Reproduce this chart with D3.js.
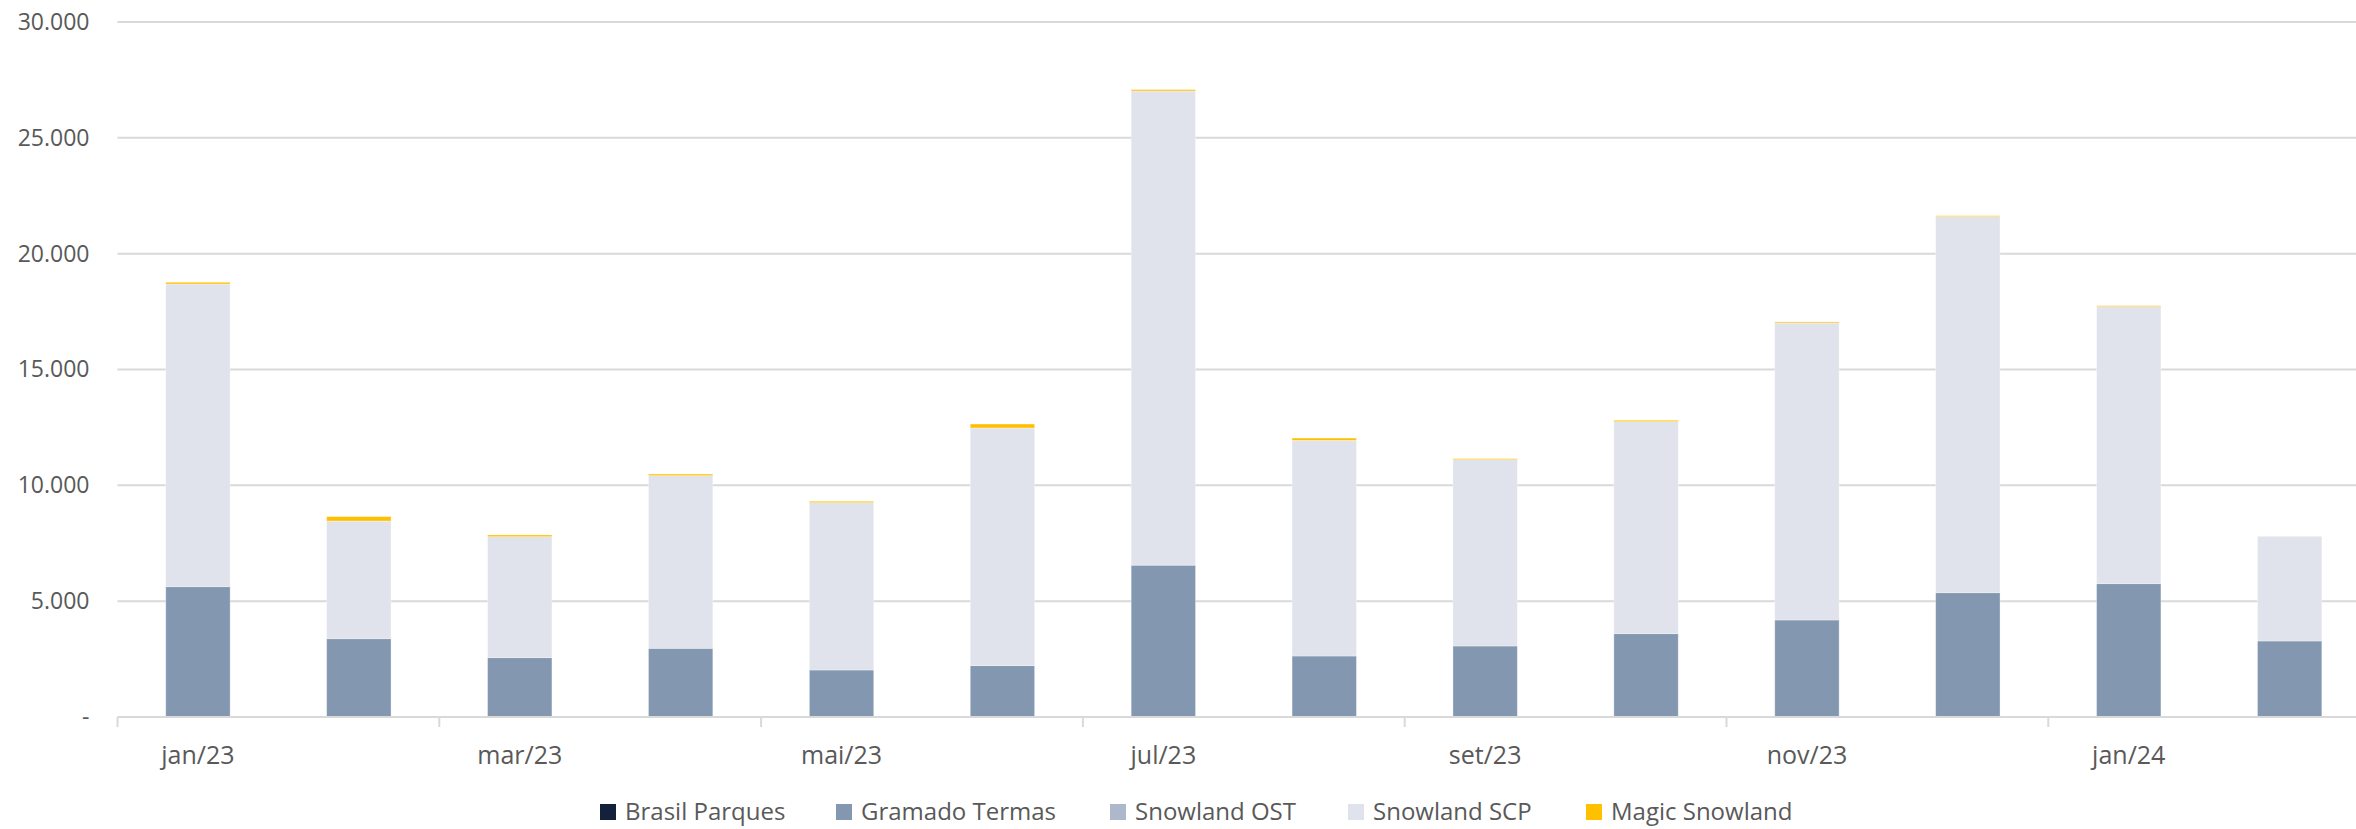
<!DOCTYPE html>
<html>
<head>
<meta charset="utf-8">
<script src="https://cdn.jsdelivr.net/npm/d3@7"></script>
<style>
  body { margin: 0; background: #fff; }
  text { font-family: "Open Sans", "Noto Sans", sans-serif; fill: #595959; }
</style>
</head>
<body>
<div id="chart"></div>
<script>
// ---- dados ----
const months = ["jan/23", "fev/23", "mar/23", "abr/23", "mai/23", "jun/23", "jul/23",
  "ago/23", "set/23", "out/23", "nov/23", "dez/23", "jan/24", "fev/24"];
const seriesNames = ["Brasil Parques", "Gramado Termas", "Snowland OST", "Snowland SCP", "Magic Snowland"];
const seriesColors = ["#14213D", "#8497B0", "#ADB9CA", "#E0E3EB", "#FFC000"];

const brasilParques = [0, 0, 0, 0, 0, 0, 0, 0, 0, 0, 0, 0, 0, 0];
const gramadoTermas = [5625, 3380, 2561, 2965, 2029, 2216, 6553, 2633, 3065, 3597, 4188, 5366, 5755, 3281];
const snowlandOST = [0, 0, 0, 0, 0, 0, 0, 0, 0, 0, 0, 0, 0, 0];
const snowlandSCP = [13065, 5080, 5223, 7452, 7223, 10260, 20471, 9307, 8043, 9152, 12821, 16232, 11958, 4519];
const magicSnowland = [75, 190, 75, 70, 60, 170, 60, 100, 45, 60, 45, 40, 40, 0];

const yTicks = [0, 5000, 10000, 15000, 20000, 25000, 30000];

// ---- configuração ----
const svgWidth = 2356;
const svgHeight = 829;
const plotLeft = 117.5;
const plotTop = 22;
const plotBottom = 717;

const svg = d3.select("#chart")
  .append("svg")
  .attr("width", svgWidth)
  .attr("height", svgHeight);

// tabela para o stack
const table = months.map((m, i) => ({
  month: m,
  "Brasil Parques": brasilParques[i],
  "Gramado Termas": gramadoTermas[i],
  "Snowland OST": snowlandOST[i],
  "Snowland SCP": snowlandSCP[i],
  "Magic Snowland": magicSnowland[i]
}));

const stacked = d3.stack().keys(seriesNames)(table);

const xScale = d3.scaleBand()
  .domain(months)
  .range([plotLeft, plotLeft + 14 * 160.9])
  .paddingInner(0.6)
  .paddingOuter(0.3);

const yScale = d3.scaleLinear()
  .domain([0, 30000])
  .range([plotBottom, plotTop]);

const colorScale = d3.scaleOrdinal().domain(seriesNames).range(seriesColors);

const fmt = d => d === 0 ? "-" : d3.format(",")(d).replace(/,/g, ".");

// grade
svg.append("g")
  .attr("class", "grid")
  .selectAll("line")
  .data(yTicks.filter(d => d > 0))
  .enter()
  .append("line")
  .attr("x1", plotLeft)
  .attr("x2", svgWidth)
  .attr("y1", d => yScale(d))
  .attr("y2", d => yScale(d))
  .attr("stroke", "#D9D9D9")
  .attr("stroke-width", 2);

// eixo y (só rótulos)
const yAxis = svg.append("g")
  .attr("class", "y-axis")
  .attr("transform", `translate(${plotLeft - 28},0)`)
  .call(d3.axisLeft(yScale).tickValues(yTicks).tickFormat(fmt).tickSize(0));
yAxis.select(".domain").remove();
yAxis.selectAll("text")
  .attr("x", 0)
  .style("font-size", "23px")
  .attr("fill", "#595959");

// barras
svg.append("g")
  .selectAll("g")
  .data(stacked)
  .enter()
  .append("g")
  .attr("fill", d => colorScale(d.key))
  .selectAll("rect")
  .data(d => d)
  .enter()
  .append("rect")
  .attr("x", d => xScale(d.data.month))
  .attr("y", d => yScale(d[1]))
  .attr("width", xScale.bandwidth())
  .attr("height", d => Math.max(0, yScale(d[0]) - yScale(d[1])))
  .attr("stroke", "#fff")
  .attr("stroke-opacity", 0.4)
  .attr("stroke-width", 0.8);

// eixo x
const step = xScale.step();
const xAxis = svg.append("g")
  .attr("class", "x-axis")
  .attr("transform", `translate(0,${plotBottom})`)
  .call(d3.axisBottom(xScale)
    .tickValues(months.filter((d, i) => i % 2 === 0))
    .tickSize(0)
    .tickPadding(29));
xAxis.select(".domain").remove();
xAxis.selectAll("text")
  .style("font-size", "25px")
  .attr("fill", "#595959");

svg.append("line")
  .attr("x1", plotLeft)
  .attr("x2", svgWidth)
  .attr("y1", plotBottom)
  .attr("y2", plotBottom)
  .attr("stroke", "#D9D9D9")
  .attr("stroke-width", 2);

// marcas entre categorias
svg.append("g")
  .selectAll("line")
  .data(months.filter((d, i) => i % 2 === 0))
  .enter()
  .append("line")
  .attr("x1", d => xScale(d) - xScale.paddingOuter() * step)
  .attr("x2", d => xScale(d) - xScale.paddingOuter() * step)
  .attr("y1", plotBottom)
  .attr("y2", plotBottom + 10)
  .attr("stroke", "#D9D9D9")
  .attr("stroke-width", 2);

// legenda
const legendX = [600, 836, 1110, 1348, 1586];
const legend = svg.append("g")
  .attr("class", "legend")
  .selectAll("g")
  .data(seriesNames)
  .enter()
  .append("g")
  .attr("transform", (d, i) => `translate(${legendX[i]},804)`);

legend.append("rect")
  .attr("width", 16)
  .attr("height", 16)
  .attr("fill", d => colorScale(d));

legend.append("text")
  .attr("x", 25)
  .attr("y", 16)
  .style("font-size", "24px")
  .text(d => d);
</script>
</body>
</html>
